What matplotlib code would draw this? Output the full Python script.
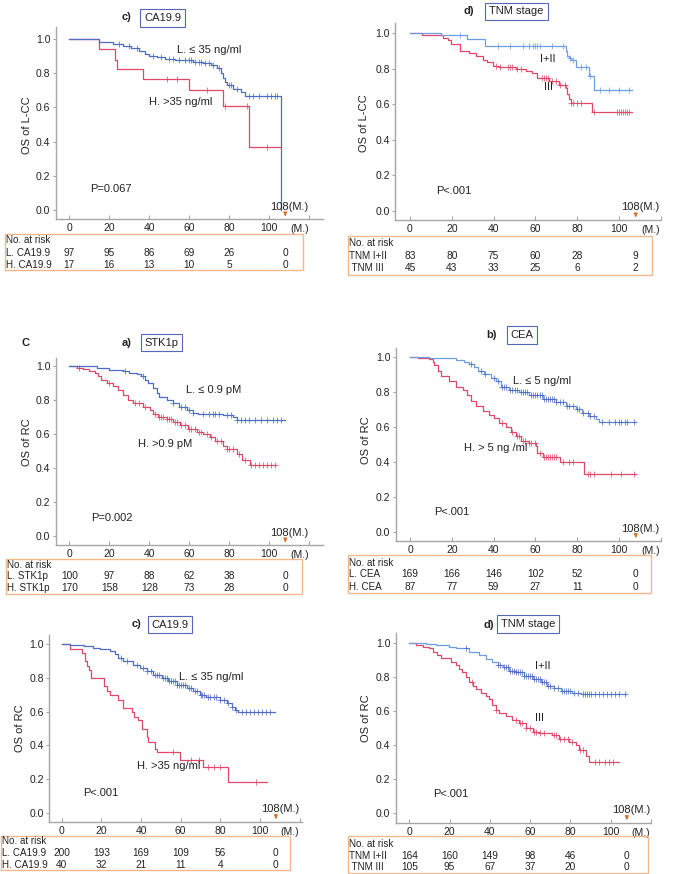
import numpy as np
import matplotlib
matplotlib.use("Agg")
import matplotlib.pyplot as plt
from matplotlib.patches import Rectangle
from matplotlib.transforms import blended_transform_factory

plt.rcParams['font.family'] = ['Liberation Sans', 'DejaVu Sans']

W, H = 676, 874

# ---------------- data (months, survival) ----------------
risk_times = [0, 20, 40, 60, 80, 108]

# c) CA19.9, L-CC
p1_L_t = [0, 15, 22, 27, 31, 35, 38, 40, 44, 48, 53, 57, 62, 67, 71, 74, 76, 77, 78, 79, 82, 86, 88, 106]
p1_L_s = [1.0, 0.98, 0.97, 0.96, 0.95, 0.93, 0.91, 0.90, 0.895, 0.885, 0.88, 0.875, 0.865, 0.86, 0.85,
          0.83, 0.80, 0.77, 0.75, 0.73, 0.71, 0.69, 0.667, 0.0]
p1_L_c = [25, 30, 34, 42, 46, 50, 52, 55, 58, 60, 61, 63, 65, 66, 68, 70, 72, 75, 80, 81, 84, 90, 92,
          95, 99, 101, 103, 104]
p1_H_t = [0, 15, 23, 24, 37, 60, 77, 90, 106]
p1_H_s = [1.0, 0.94, 0.88, 0.824, 0.765, 0.70, 0.61, 0.37, 0.37]
p1_H_c = [49, 54, 69, 78, 89, 99]
p1_risk_L = [97, 95, 86, 69, 26, 0]
p1_risk_H = [17, 16, 13, 10, 5, 0]

# d) TNM stage, L-CC
p2_L_t = [0, 15, 27.5, 36, 74.5, 75.3, 76, 77, 79.3, 85.7, 88, 106]
p2_L_s = [1.0, 0.988, 0.97, 0.929, 0.90, 0.87, 0.86, 0.85, 0.812, 0.76, 0.68, 0.68]
p2_L_c = [24, 42, 48, 54, 57, 59, 60, 61, 62, 68, 73, 76.5, 78, 82, 84, 86, 91, 95, 100, 105]
p2_H_t = [0, 5.7, 15.6, 18, 19.6, 24, 28.3, 31.5, 34.7, 37, 39.5, 42.7, 50.6, 55.4, 58.6, 61, 66.6,
          71.3, 74.5, 75.3, 76, 76.9, 87.3, 106]
p2_H_s = [1.0, 0.988, 0.975, 0.96, 0.94, 0.90, 0.89, 0.87, 0.85, 0.84, 0.815, 0.81, 0.80, 0.79, 0.775,
          0.75, 0.73, 0.71, 0.69, 0.66, 0.63, 0.605, 0.556, 0.556]
p2_H_c = [41, 43, 47, 48, 49, 51, 53, 63, 64, 65, 66, 68, 70, 72, 74, 77, 78, 80, 82, 88, 99, 100,
          101, 102, 103, 104, 105]
p2_risk_L = [83, 80, 75, 60, 28, 9]
p2_risk_H = [45, 43, 33, 25, 6, 2]

# a) STK1p, RC
p3_L_t = [0, 13.7, 20, 27, 30, 34, 36, 38, 39.5, 42, 43.7, 45, 48.7, 52, 55, 58.7, 62, 64.5, 77, 82, 84, 108]
p3_L_s = [1.0, 0.99, 0.975, 0.97, 0.96, 0.95, 0.94, 0.92, 0.90, 0.87, 0.84, 0.82, 0.80, 0.78, 0.76,
          0.74, 0.725, 0.72, 0.71, 0.70, 0.685, 0.685]
p3_L_c = [28, 37, 52, 56, 58, 60, 62, 67, 70, 72, 73, 75, 79, 81, 84, 86, 88, 90, 93, 96, 99, 102, 104, 106]
p3_H_t = [0, 3.7, 7, 10, 13, 14.5, 16, 18.7, 22, 24.5, 27, 29.5, 32, 37, 40.3, 42, 44.5, 48.7, 52, 55.3,
          59.5, 63.7, 67, 70.3, 72.8, 77, 78.7, 83.7, 86.2, 90.3, 103.3]
p3_H_s = [1.0, 0.99, 0.98, 0.97, 0.96, 0.94, 0.92, 0.90, 0.88, 0.86, 0.83, 0.80, 0.78, 0.76, 0.74, 0.72,
          0.70, 0.69, 0.67, 0.65, 0.63, 0.61, 0.60, 0.58, 0.56, 0.53, 0.51, 0.48, 0.45, 0.415, 0.415]
p3_H_c = [5, 20, 33, 35, 38, 43, 45, 46, 47, 49, 50, 51, 53, 54, 56, 58, 60, 61, 63, 65, 66, 69, 71, 74,
          76, 79, 80, 82, 85, 88, 91, 93, 95, 97, 99, 101, 103]
p3_risk_L = [100, 97, 88, 62, 38, 0]
p3_risk_H = [170, 158, 128, 73, 28, 0]

# b) CEA, RC
p4_L_t = [0, 9, 17, 22, 26, 28, 30.7, 32.3, 35.5, 38.7, 41, 43.5, 47.5, 52, 57, 63.4, 70, 74.5, 79.3,
          82.5, 85.7, 89, 90.4, 108]
p4_L_s = [1.0, 0.995, 0.99, 0.98, 0.97, 0.96, 0.94, 0.92, 0.90, 0.88, 0.86, 0.83, 0.81, 0.80, 0.78,
          0.76, 0.74, 0.72, 0.70, 0.68, 0.66, 0.645, 0.63, 0.63]
p4_L_c = [29, 34, 36, 40, 42, 44, 45, 46, 48, 49, 50, 51, 53, 54, 55, 56, 58, 59, 60, 61, 62, 63, 64, 65,
          66, 67, 68, 69, 70, 72, 73, 75, 76, 78, 80, 81, 83, 85, 86, 88, 92, 95, 98, 100, 101, 103, 104, 107]
p4_H_t = [0, 3.7, 9, 10.8, 11.6, 13.2, 14.8, 18.8, 22, 25.2, 27.5, 29.1, 31.5, 34.7, 37.9, 40.3, 42.7,
          45.9, 48.2, 50.6, 53, 57, 60.2, 61, 63.4, 71.6, 83.3, 108]
p4_H_s = [1.0, 0.99, 0.985, 0.97, 0.95, 0.92, 0.89, 0.86, 0.83, 0.81, 0.78, 0.75, 0.72, 0.69, 0.67,
          0.65, 0.62, 0.60, 0.57, 0.55, 0.52, 0.51, 0.49, 0.45, 0.43, 0.40, 0.33, 0.33]
p4_H_c = [44, 49, 51, 52, 54, 55, 57, 58, 60, 62, 64, 65, 66, 67, 68, 69, 70, 73, 76, 78, 85, 86, 88,
          96, 101, 107]
p4_risk_L = [169, 166, 146, 102, 52, 0]
p4_risk_H = [87, 77, 59, 27, 11, 0]

# c) CA19.9, RC
p5_L_t = [0, 4.2, 11, 16, 19.3, 24.4, 27, 28.6, 31, 36, 39.5, 42.9, 46.2, 50.4, 53.8, 58, 63, 66.4,
          69.7, 73, 79.8, 83.2, 85.7, 87.4, 89, 107.6]
p5_L_s = [1.0, 0.995, 0.99, 0.98, 0.97, 0.96, 0.94, 0.92, 0.90, 0.88, 0.86, 0.84, 0.82, 0.80, 0.78,
          0.76, 0.74, 0.72, 0.70, 0.685, 0.67, 0.65, 0.63, 0.61, 0.60, 0.60]
p5_L_c = [30, 33, 38, 41, 43, 45, 47, 48, 49, 51, 52, 53, 54, 55, 56, 57, 58, 59, 60, 61, 62, 64, 65,
          67, 68, 70, 71, 72, 74, 75, 77, 78, 80, 82, 84, 86, 88, 91, 93, 95, 97, 99, 101, 103, 105]
p5_H_t = [0, 4.2, 10, 11.8, 13, 14, 14.6, 21.3, 22.7, 24.4, 28.6, 31, 35.3, 36.5, 38.3, 40.3, 42.9,
          43.7, 47, 47.9, 59.7, 71.4, 83.7, 103.4]
p5_H_s = [1.0, 0.975, 0.95, 0.90, 0.87, 0.85, 0.80, 0.75, 0.72, 0.70, 0.67, 0.62, 0.60, 0.57, 0.55,
          0.50, 0.45, 0.42, 0.38, 0.36, 0.31, 0.27, 0.18, 0.18]
p5_H_c = [56, 65, 69, 74, 77, 80, 98]
p5_risk_L = [200, 193, 169, 109, 56, 0]
p5_risk_H = [40, 32, 21, 11, 4, 0]

# d) TNM stage, RC
p6_L_t = [0, 8.3, 13.2, 19.8, 23, 28, 29.8, 34.7, 38, 41.3, 43.8, 46.3, 49.6, 52.9, 57, 61.2, 65.3,
          68.6, 71.9, 75.2, 81, 85.1, 107.4]
p6_L_s = [1.0, 0.995, 0.99, 0.98, 0.975, 0.97, 0.95, 0.93, 0.91, 0.89, 0.87, 0.86, 0.84, 0.83, 0.81,
          0.79, 0.77, 0.75, 0.74, 0.72, 0.71, 0.70, 0.70]
p6_L_c = [28, 44, 45, 47, 48, 49, 50, 51, 52, 53, 54, 55, 56, 57, 58, 59, 60, 61, 62, 63, 64, 65, 66,
          67, 68, 69, 70, 72, 74, 76, 77, 78, 79, 80, 82, 84, 86, 87, 88, 89, 90, 92, 94, 96, 98, 100,
          102, 104, 107]
p6_H_t = [0, 3.3, 6.6, 9.6, 11.6, 14, 15.7, 20.7, 23, 24.8, 26.4, 28.1, 29.8, 31.4, 33, 35.5, 38, 39.7,
          41.3, 43, 44.6, 47.9, 51.2, 54.5, 57.8, 61.2, 64.5, 71, 74.4, 79.3, 82.6, 84.3, 87.6, 89.3, 104]
p6_H_s = [1.0, 0.99, 0.98, 0.97, 0.95, 0.93, 0.915, 0.89, 0.87, 0.85, 0.83, 0.80, 0.77, 0.75, 0.73,
          0.71, 0.69, 0.67, 0.64, 0.61, 0.59, 0.57, 0.55, 0.53, 0.50, 0.48, 0.47, 0.46, 0.44, 0.42,
          0.40, 0.37, 0.34, 0.30, 0.30]
p6_H_c = [31, 43, 53, 55, 56, 58, 60, 62, 63, 65, 67, 72, 73, 75, 77, 79, 81, 85, 86, 92, 94, 97, 99, 101]
p6_risk_L = [164, 160, 149, 98, 46, 0]
p6_risk_H = [105, 95, 67, 37, 20, 0]

BLUE = '#4d6cc4'
LBLUE = '#6e9de0'
RED = '#e0486a'
GRAY = '#a6a6a6'
ORANGE = '#f2b88e'
ARROW = '#d9702a'
BOXBLUE = '#5468b8'

panels = [
    dict(tag='c)', title='CA19.9', ylab='OS of L-CC', p='P=0.067',
         L=(p1_L_t, p1_L_s, p1_L_c), Hh=(p1_H_t, p1_H_s, p1_H_c), lcol=BLUE, lmark=BLUE,
         risk_names=('L. CA19.9', 'H. CA19.9'), risk=(p1_risk_L, p1_risk_H),
         g=(56, 323, 27, 219, 69.3, 2.0, 39, 210),
         tag_xy=(127, 17), box_xy=(162.5, 18), lab_xy=(27, 125), ppos=(10.5, 0.12),
         ltxt=('L. ≤ 35 ng/ml', 53.7, 0.936), htxt=('H. >35 ng/ml', 40, 0.633),
         rbox=(5, 303, 234, 270), rrows=(240, 253, 265), rlab_x=6),
    dict(tag='d)', title='TNM stage', ylab='OS of L-CC', p='P<.001',
         L=(p2_L_t, p2_L_s, p2_L_c), Hh=(p2_H_t, p2_H_s, p2_H_c), lcol=LBLUE, lmark=LBLUE,
         risk_names=('TNM I+II', ' TNM III'), risk=(p2_risk_L, p2_risk_H),
         g=(395.3, 661, 23, 220, 410, 2.09, 33.3, 210.7),
         tag_xy=(469, 11), box_xy=(516.5, 11.5), lab_xy=(364, 123), ppos=(12.4, 0.11),
         ltxt=('I+II', 62.2, 0.854), htxt=('III', 64.3, 0.696),
         rbox=(348, 652, 236, 275), rrows=(243, 256, 268), rlab_x=349),
    dict(tag='a)', title='STK1p', ylab='OS of RC', p='P=0.002',
         L=(p3_L_t, p3_L_s, p3_L_c), Hh=(p3_H_t, p3_H_s, p3_H_c), lcol=BLUE, lmark=BLUE,
         risk_names=('L. STK1p', 'H. STK1p'), risk=(p3_risk_L, p3_risk_H),
         g=(56, 323, 358, 545, 69.3, 2.0, 366, 536),
         tag_xy=(127, 343), box_xy=(161.5, 342.5), lab_xy=(27, 442), ppos=(11, 0.107),
         ltxt=('L. ≤ 0.9 pM', 58.3, 0.859), htxt=('H. >0.9 pM', 34.5, 0.541),
         rbox=(6, 302, 559, 594), rrows=(565, 576, 588), rlab_x=7),
    dict(tag='b)', title='CEA', ylab='OS of RC', p='P<.001',
         L=(p4_L_t, p4_L_s, p4_L_c), Hh=(p4_H_t, p4_H_s, p4_H_c), lcol=LBLUE, lmark=BLUE,
         risk_names=('L. CEA', 'H. CEA'), risk=(p4_risk_L, p4_risk_H),
         g=(396, 661, 348, 540.7, 410, 2.09, 356.7, 532.3),
         tag_xy=(491, 335), box_xy=(522, 335), lab_xy=(366, 440), ppos=(11.5, 0.117),
         ltxt=('L. ≤ 5 ng/ml', 49.1, 0.863), htxt=('H. > 5 ng /ml', 25.6, 0.478),
         rbox=(348, 651, 555, 593), rrows=(563, 574, 587), rlab_x=349),
    dict(tag='c)', title='CA19.9', ylab='OS of RC', p='P<.001',
         L=(p5_L_t, p5_L_s, p5_L_c), Hh=(p5_H_t, p5_H_s, p5_H_c), lcol=BLUE, lmark=BLUE,
         risk_names=('L. CA19.9', 'H. CA19.9'), risk=(p5_risk_L, p5_risk_H),
         g=(49.3, 302, 635, 821.7, 61.7, 1.983, 644.3, 812.7),
         tag_xy=(137, 624), box_xy=(170, 624.5), lab_xy=(20, 728), ppos=(10.8, 0.119),
         ltxt=('L. ≤ 35 ng/ml', 59.3, 0.808), htxt=('H. >35 ng/ml', 38.1, 0.279),
         rbox=(0.5, 290, 836, 870), rrows=(841, 853, 865), rlab_x=1.5),
    dict(tag='d)', title='TNM stage', ylab='OS of RC', p='P<.001',
         L=(p6_L_t, p6_L_s, p6_L_c), Hh=(p6_H_t, p6_H_s, p6_H_c), lcol=LBLUE, lmark=BLUE,
         risk_names=('TNM I+II', ' TNM III'), risk=(p6_risk_L, p6_risk_H),
         g=(396, 651, 633, 822.7, 409.3, 2.017, 643.3, 813.3),
         tag_xy=(489, 625), box_xy=(528, 624), lab_xy=(366, 718), ppos=(11.9, 0.112),
         ltxt=('I+II', 62.5, 0.866), htxt=('III', 62.5, 0.562),
         rbox=(348, 648, 836, 873), rrows=(844, 856, 867), rlab_x=349),
]


def fx(x):
    return x / W


def fy(y):
    return 1 - y / H


def step_value(t, s, c):
    idx = np.searchsorted(np.asarray(t), np.asarray(c), side='right') - 1
    return np.asarray(s)[idx]


fig = plt.figure(figsize=(W / 100, H / 100), dpi=100)

for pn in panels:
    left, right, top, xaxis, x0, pxpm, y1, y0 = pn['g']
    ax = fig.add_axes([fx(left), fy(xaxis), (right - left) / W, (xaxis - top) / H])
    ax.set_xlim((left - x0) / pxpm, (right - x0) / pxpm)
    ax.set_ylim((y0 - xaxis) / (y0 - y1), (y0 - top) / (y0 - y1))
    for sp in ('top', 'right'):
        ax.spines[sp].set_visible(False)
    for sp in ('left', 'bottom'):
        ax.spines[sp].set_color(GRAY)
        ax.spines[sp].set_linewidth(1.0)
    ax.set_xticks([0, 20, 40, 60, 80, 100, 120])
    ax.set_xticklabels(['0', '20', '40', '60', '80', '100', ''])
    ax.set_yticks([0, 0.2, 0.4, 0.6, 0.8, 1.0])
    ax.set_yticklabels(['0.0', '0.2', '0.4', '0.6', '0.8', '1.0'])
    ax.tick_params(axis='x', direction='in', length=3, color=GRAY, labelsize=7.5, pad=3, labelcolor='#222')
    ax.tick_params(axis='y', direction='out', length=2, color=GRAY, labelsize=7.5, pad=2, labelcolor='#222')
    ax.patch.set_alpha(0)

    # curves
    hc = pn['Hh']
    lc = pn['L']
    ax.step(hc[0], hc[1], where='post', color=RED, lw=0.9)
    ax.plot(hc[2], step_value(hc[0], hc[1], hc[2]), ls='none', marker='+', ms=4.5, mew=0.7,
            color=RED, alpha=0.75)
    ax.step(lc[0], lc[1], where='post', color=pn['lcol'], lw=0.9)
    ax.plot(lc[2], step_value(lc[0], lc[1], lc[2]), ls='none', marker='+', ms=4.5, mew=0.7,
            color=pn['lmark'], alpha=0.75)

    # labels on plot
    ax.text(pn['ltxt'][1], pn['ltxt'][2], pn['ltxt'][0], fontsize=8, va='center', ha='left', color='#222')
    ax.text(pn['htxt'][1], pn['htxt'][2], pn['htxt'][0], fontsize=8, va='center', ha='left', color='#222')
    ax.text(pn['ppos'][0], pn['ppos'][1], pn['p'], fontsize=8, va='center', ha='left', color='#222')

    ymin = ax.get_ylim()[0]
    ax.annotate('', xy=(108, ymin), xytext=(108, ymin + 0.045),
                arrowprops=dict(arrowstyle='-|>', color=ARROW, lw=0.9, mutation_scale=5))
    ax.text(110, 0.02, '108(M.)', fontsize=8, ha='center', va='center', color='#222')
    ax.annotate('(M.)', xy=(115, ymin), xytext=(0, -3.5), textcoords='offset points',
                fontsize=7.5, ha='center', va='top', color='#222')

    # y label
    fig.text(fx(pn['lab_xy'][0]), fy(pn['lab_xy'][1]), pn['ylab'], rotation=90, fontsize=8,
             ha='center', va='center', color='#222')

    # title tag and box
    fig.text(fx(pn['tag_xy'][0]), fy(pn['tag_xy'][1]), pn['tag'], fontsize=8, fontweight='bold',
             ha='center', va='center', color='#222')
    fig.text(fx(pn['box_xy'][0]), fy(pn['box_xy'][1]), pn['title'], fontsize=8,
             ha='center', va='center', color='#222',
             bbox=dict(boxstyle='square,pad=0.35', fc='white', ec=BOXBLUE, lw=0.8))

    # number at risk table
    bx0, bx1, by0, by1 = pn['rbox']
    fig.patches.append(Rectangle((fx(bx0), fy(by1)), (bx1 - bx0) / W, (by1 - by0) / H,
                                 transform=fig.transFigure, fill=False, ec=ORANGE, lw=1.0))
    r0, r1, r2 = pn['rrows']
    fig.text(fx(pn['rlab_x']), fy(r0), 'No. at risk', fontsize=7.1, ha='left', va='center', color='#222')
    fig.text(fx(pn['rlab_x']), fy(r1), pn['risk_names'][0], fontsize=7.1, ha='left', va='center', color='#222')
    fig.text(fx(pn['rlab_x']), fy(r2), pn['risk_names'][1], fontsize=7.1, ha='left', va='center', color='#222')
    tr = blended_transform_factory(ax.transData, fig.transFigure)
    for t, a, b in zip(risk_times, pn['risk'][0], pn['risk'][1]):
        ax.text(t, fy(r1), str(a), transform=tr, fontsize=7.3, ha='center', va='center',
                color='#222', clip_on=False)
        ax.text(t, fy(r2), str(b), transform=tr, fontsize=7.3, ha='center', va='center',
                color='#222', clip_on=False)

fig.text(fx(25), fy(343), 'C', fontsize=8, fontweight='bold', ha='center', va='center', color='#222')

fig.savefig('out.png', dpi=100)
